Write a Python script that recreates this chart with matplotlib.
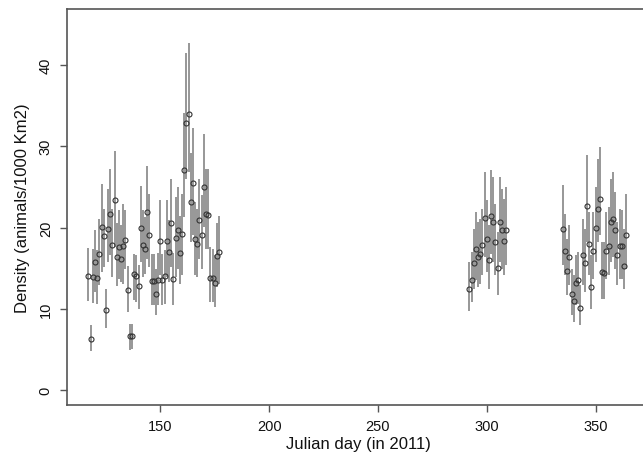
import matplotlib
matplotlib.use("Agg")
import matplotlib.pyplot as plt
import numpy as np

plt.rcParams['font.family'] = ['Liberation Sans', 'DejaVu Sans']

# ---- data ----
days1 = list(range(117, 178))
dens1 = [14.04, 6.34, 13.88, 15.76, 13.79, 16.70, 20.02, 18.91, 9.82, 19.81,
         21.61, 17.89, 23.33, 16.33, 17.60, 16.09, 17.77, 18.42, 12.28, 6.63,
         6.71, 14.24, 14.04, 12.77, 19.89, 17.89, 17.31, 21.90, 19.07, 13.43,
         13.43, 11.87, 13.51, 18.38, 13.51, 14.00, 18.38, 16.99, 20.51, 13.63,
         18.75, 19.65, 16.91, 19.16, 27.10, 32.87, 33.93, 23.13, 25.50, 18.62,
         17.93, 20.88, 19.07, 24.97, 21.65, 21.57, 13.84, 13.79, 13.18, 16.50,
         16.99]
upper1 = [17.48, 8.06, 17.31, 19.73, 17.19, 21.00, 25.34, 22.30, 12.40, 24.76,
          27.22, 22.31, 29.39, 20.55, 22.19, 20.34, 22.92, 22.10, 15.27, 8.19,
          8.19, 16.78, 16.58, 15.35, 25.09, 22.10, 21.29, 27.51, 24.07, 16.74,
          16.74, 14.94, 16.82, 23.33, 16.74, 17.19, 23.33, 20.96, 25.99, 16.91,
          23.74, 24.97, 21.41, 24.07, 34.06, 41.47, 42.61, 29.19, 32.26, 23.13,
          22.31, 25.99, 24.03, 31.52, 27.14, 27.14, 17.60, 17.40, 16.58, 20.55,
          21.37]
lower1 = [10.93, 4.87, 10.77, 12.08, 10.64, 12.98, 14.53, 15.10, 7.65, 15.76,
          16.58, 13.92, 17.60, 12.77, 13.63, 13.30, 13.10, 14.94, 9.62, 4.91,
          5.12, 11.05, 10.85, 10.03, 15.76, 13.92, 14.33, 16.17, 15.15, 10.44,
          10.44, 9.29, 10.44, 14.12, 10.44, 10.64, 13.92, 13.30, 15.15, 10.44,
          13.92, 14.94, 13.10, 14.12, 21.24, 25.91, 26.81, 18.22, 19.03, 14.12,
          13.92, 16.17, 14.94, 20.06, 17.40, 17.40, 10.85, 10.85, 10.23, 12.69,
          13.10]

days2 = list(range(292, 310))
dens2 = [12.49, 13.51, 15.69, 17.32, 16.38, 16.79, 17.81, 21.18, 18.55, 16.06,
         21.46, 20.64, 18.23, 15.03, 20.69, 19.66, 18.39, 19.66]
upper2 = [15.77, 17.00, 19.87, 21.91, 20.69, 21.09, 22.32, 26.83, 23.34, 20.27,
          27.03, 26.22, 22.94, 19.46, 26.22, 24.78, 23.55, 24.99]
lower2 = [9.71, 10.86, 12.49, 13.51, 12.70, 13.11, 14.13, 16.39, 14.55, 12.49,
          16.79, 15.77, 14.13, 11.67, 15.77, 14.95, 14.13, 15.36]

days3 = list(range(335, 365))
dens3 = [19.78, 17.16, 14.62, 16.38, 11.84, 10.98, 13.23, 13.51, 10.12, 16.67,
         15.61, 22.61, 17.94, 12.74, 17.08, 19.95, 22.24, 23.55, 14.55, 14.46,
         17.08, 17.69, 20.64, 21.09, 19.66, 16.59, 17.74, 17.69, 15.32, 19.13]
upper3 = [25.20, 21.71, 18.64, 20.27, 14.95, 14.13, 16.58, 17.00, 12.90, 21.09,
          19.87, 28.87, 21.91, 16.58, 21.91, 24.99, 28.46, 29.90, 18.23, 18.23,
          21.91, 22.52, 26.00, 26.83, 24.37, 20.69, 22.32, 22.11, 19.87, 24.17]
lower3 = [15.36, 14.13, 11.67, 12.90, 9.21, 8.40, 10.44, 10.65, 7.99, 12.90,
          12.09, 18.23, 14.13, 10.04, 13.72, 15.77, 18.23, 19.04, 11.27, 11.27,
          13.72, 14.13, 15.77, 16.39, 14.95, 12.90, 13.72, 13.72, 12.49, 14.95]

x_ticks = [150, 200, 250, 300, 350]
y_ticks = [0, 10, 20, 30, 40]

days = days1 + days2 + days3
dens = dens1 + dens2 + dens3
upper = upper1 + upper2 + upper3
lower = lower1 + lower2 + lower3

# ---- figure ----
fig = plt.figure(figsize=(6.43, 4.56), dpi=100)
ax = fig.add_axes([66.7 / 643, 50 / 456, (650 - 66.7) / 643, (406 - 10.3) / 456])

ax.vlines(days, lower, upper, colors='#7a7a7a', linewidth=1.1, zorder=2)
ax.plot(days, dens, linestyle='none', marker='o', markersize=3.6,
        markerfacecolor='none', markeredgecolor='#333333', markeredgewidth=0.8,
        zorder=3)

ax.set_xlim(107, 375)
ax.set_ylim(-1.8, 46.8)
ax.set_xticks(x_ticks)
ax.set_yticks(y_ticks)
ax.set_xticklabels([str(t) for t in x_ticks])
ax.set_yticklabels([str(t) for t in y_ticks], rotation=90, va='center')

for s in ['left', 'bottom', 'top', 'right']:
    ax.spines[s].set_color('#555555')
    ax.spines[s].set_linewidth(1.2)

ax.tick_params(axis='both', direction='out', length=5, width=1.0,
               color='#555555', labelsize=10.5, labelcolor='#111111')
ax.tick_params(axis='x', pad=5)
ax.tick_params(axis='y', pad=5)

ax.set_xlabel('Julian day (in 2011)', fontsize=12, color='#111111', labelpad=2)
ax.set_ylabel('Density (animals/1000 Km2)', fontsize=12, color='#111111', labelpad=6)

fig.savefig('out.png', dpi=100)
